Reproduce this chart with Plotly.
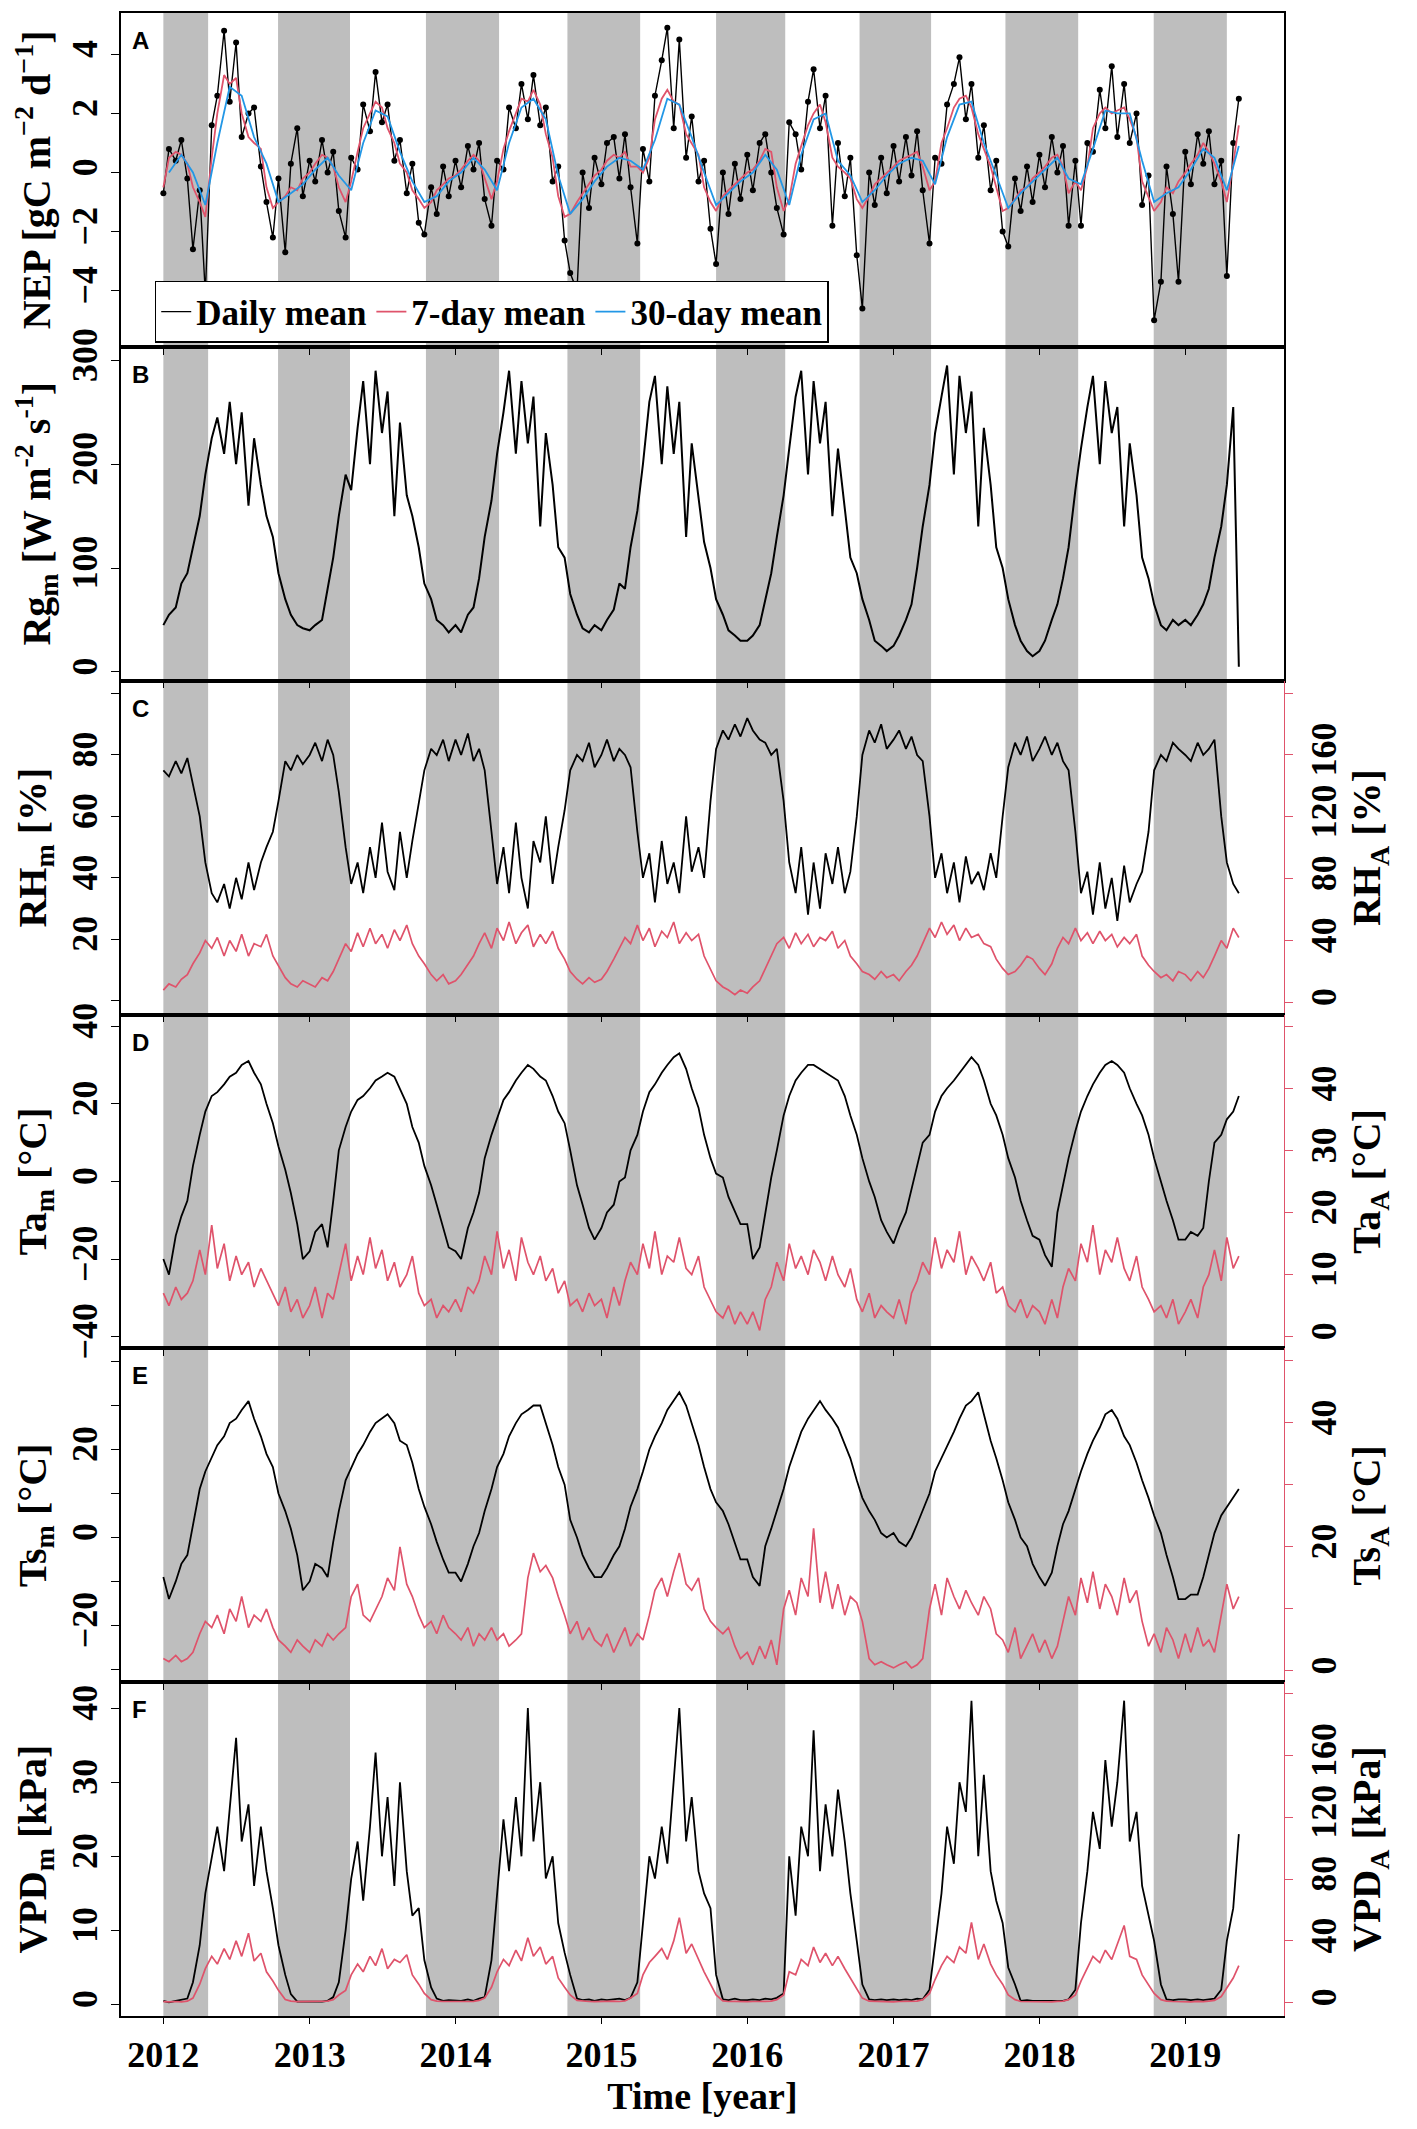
import pandas as pd
import plotly.graph_objects as go
from plotly.subplots import make_subplots

# fechas: muestreo semimensual (1 y 15 de cada mes) y mensual para la media de 30 dias
fechas = pd.date_range("2012-01-01", "2019-05-15", freq="SMS")
fechas_mes = pd.date_range("2012-01-01", "2019-05-01", freq="MS") + pd.Timedelta(days=14)

# periodos sombreados (invierno)
inicio_invierno = ["2012-01-01", "2012-10-14", "2013-10-19", "2014-10-08", "2015-10-15",
                   "2016-10-08", "2017-10-08", "2018-10-14"]
fin_invierno = ["2012-04-22", "2013-04-12", "2014-04-20", "2015-04-08", "2016-04-05",
                "2017-04-05", "2018-04-08", "2019-04-15"]

anios = [2012, 2013, 2014, 2015, 2016, 2017, 2018, 2019]

# A: NEP
nep_diario = [
    -0.7, 0.8, 0.4, 1.1, -0.2, -2.6, -0.6, -4.1, 1.6, 2.6, 4.8, 2.4, 4.4, 1.2, 2.0, 2.2, 0.2, -1.0, -2.2, -0.2, -2.7, 0.3, 1.5, -0.8,
    0.4, -0.3, 1.1, 0.0, 0.7, -1.3, -2.2, 0.5, 0.1, 2.3, 1.4, 3.4, 1.7, 2.3, 0.4, 1.1, -0.7, 0.3, -1.7, -2.1, -0.5, -1.4, 0.2, -0.8,
    0.4, -0.5, 0.9, 0.1, 1.0, -0.9, -1.8, 0.4, 0.1, 2.2, 1.5, 3.0, 1.8, 3.3, 1.6, 2.2, -0.3, 0.2, -2.3, -3.4, -4.0, 0.0, -1.2, 0.5,
    -0.4, 1.0, 1.2, -0.2, 1.3, -0.5, -2.4, 0.8, -0.3, 2.6, 3.8, 4.9, 1.5, 4.5, 0.5, 1.9, -0.3, 0.4, -1.9, -3.1, 0.0, -1.4, 0.3, -0.9,
    0.6, -0.6, 1.0, 1.3, 0.0, -1.2, -2.1, 1.7, 1.3, 0.1, 2.4, 3.5, 1.5, 2.6, -1.8, 1.0, -0.8, 0.5, -2.8, -4.6, 0.0, -1.1, 0.5, -0.7,
    0.9, -0.3, 1.2, -0.1, 1.4, -0.6, -2.4, 0.5, 0.3, 2.3, 3.0, 3.9, 1.8, 3.0, 0.5, 1.6, -0.6, 0.4, -2.0, -2.5, -0.2, -1.3, 0.2, -1.0,
    0.6, -0.5, 1.2, 0.0, 0.9, -1.8, 0.4, -1.8, 1.0, 0.7, 2.8, 1.5, 3.6, 1.2, 3.0, 1.0, 2.0, -1.1, -0.1, -5.0, -3.7, 0.2, -1.4, -3.7,
    0.7, -0.4, 1.3, 0.3, 1.4, -0.4, 0.4, -3.5, 1.0, 2.5,
]
nep_7d = [
    -0.5, 0.5, 0.7, 0.6, 0.3, -0.5, -1.0, -1.5, 0.5, 2.0, 3.3, 3.0, 3.2, 2.0, 1.2, 1.0, 0.8, -0.5, -1.2, -1.0, -0.8, -0.5, -0.6, -0.2,
    0.0, 0.3, 0.6, 0.5, 0.2, -0.5, -1.0, -0.3, 0.7, 1.5, 2.0, 2.4, 2.2, 1.5, 1.0, 0.3, 0.0, -0.6, -0.9, -1.2, -1.0, -0.6, -0.4, -0.2,
    -0.1, 0.1, 0.4, 0.6, 0.4, -0.2, -0.9, -0.3, 0.8, 1.4, 2.0, 2.5, 2.4, 2.8, 2.3, 1.3, 0.5, -0.8, -1.5, -1.4, -1.0, -0.7, -0.4, -0.1,
    0.1, 0.4, 0.6, 0.5, 0.7, 0.2, 0.2, 0.0, 0.5, 1.8, 2.5, 2.8, 2.4, 2.3, 1.3, 1.0, 0.6, -0.5, -1.0, -1.3, -0.8, -0.6, -0.4, -0.2,
    0.0, 0.1, 0.4, 0.8, 0.7, -0.5, -1.3, -0.9, 0.3, 0.9, 1.6, 2.0, 2.3, 1.7, 0.5, 0.2, 0.0, -0.2, -0.9, -1.2, -0.8, -0.4, -0.2, 0.0,
    0.2, 0.4, 0.5, 0.6, 0.7, 0.2, -0.6, -0.3, 1.0, 1.5, 2.2, 2.5, 2.6, 2.2, 1.3, 0.8, 0.2, -0.5, -1.3, -1.2, -0.9, -0.6, -0.5, -0.2,
    0.0, 0.2, 0.5, 0.6, 0.2, -0.7, -0.3, -0.6, 0.2, 1.5, 2.0, 2.2, 2.0, 2.1, 2.2, 1.8, 1.2, -0.3, -0.8, -1.3, -1.0, -0.5, -0.7, -0.3,
    0.0, 0.3, 0.6, 1.0, 0.7, 0.3, -0.3, -1.0, 0.3, 1.6,
]
nep_30d = [
    0.0, 0.6, 0.0, -1.1, 1.0, 2.9, 2.6, 1.2, 0.3, -1.0, -0.7, -0.4,
    0.1, 0.5, -0.1, -0.6, 1.0, 2.1, 1.9, 0.7, -0.3, -1.0, -0.8, -0.3,
    0.0, 0.5, 0.1, -0.6, 1.0, 2.2, 2.5, 1.8, -0.1, -1.4, -0.9, -0.3,
    0.2, 0.5, 0.4, 0.1, 1.1, 2.5, 2.3, 1.2, 0.0, -1.1, -0.7, -0.3,
    0.0, 0.6, 0.1, -1.1, 0.6, 1.8, 2.0, 0.4, -0.1, -1.0, -0.6, -0.1,
    0.3, 0.5, 0.4, -0.4, 1.2, 2.3, 2.4, 1.0, -0.1, -1.2, -0.7, -0.3,
    0.1, 0.5, -0.2, -0.4, 0.8, 2.1, 2.0, 2.0, 0.4, -1.0, -0.7, -0.5,
    0.1, 0.8, 0.5, -0.6, 0.9,
]

# B: radiacion global
rg_m = [
    45, 55, 62, 85, 95, 120, 150, 190, 225, 245, 210, 260, 200, 250, 160, 225, 180, 150, 130, 95, 70, 55, 45, 42,
    40, 45, 50, 80, 110, 150, 190, 175, 235, 280, 200, 290, 230, 270, 150, 240, 170, 150, 120, 85, 70, 50, 45, 38,
    45, 38, 55, 62, 90, 130, 165, 210, 250, 290, 210, 280, 220, 265, 140, 230, 180, 120, 110, 75, 55, 42, 38, 45,
    40, 50, 60, 85, 80, 120, 155, 200, 260, 285, 200, 275, 210, 260, 130, 220, 170, 125, 100, 70, 55, 40, 35, 30,
    30, 35, 45, 70, 95, 130, 170, 215, 265, 290, 190, 280, 220, 260, 150, 215, 160, 110, 95, 70, 50, 30, 25, 20,
    25, 35, 50, 65, 100, 140, 180, 230, 265, 295, 190, 285, 230, 270, 140, 235, 180, 120, 100, 70, 45, 30, 20, 15,
    20, 30, 50, 65, 90, 120, 175, 215, 255, 285, 200, 280, 230, 255, 140, 220, 170, 110, 90, 65, 45, 40, 50, 45,
    50, 45, 55, 65, 80, 110, 140, 180, 255, 5,
]

# C: humedad relativa
rh_m = [
    75, 73, 78, 74, 79, 70, 60, 45, 35, 32, 38, 30, 40, 33, 45, 36, 45, 50, 55, 65, 78, 75, 80, 77,
    80, 84, 78, 85, 80, 68, 50, 38, 45, 35, 50, 40, 58, 42, 36, 55, 40, 52, 65, 75, 82, 80, 85, 78,
    85, 80, 87, 78, 82, 75, 55, 38, 50, 35, 58, 40, 30, 52, 45, 60, 38, 50, 62, 75, 80, 78, 84, 76,
    80, 85, 78, 82, 80, 76, 55, 40, 48, 32, 52, 38, 45, 35, 60, 42, 50, 40, 65, 82, 88, 85, 90, 86,
    92, 88, 85, 84, 80, 82, 65, 45, 35, 50, 28, 45, 30, 48, 38, 50, 35, 42, 60, 80, 88, 84, 90, 82,
    85, 88, 82, 86, 80, 78, 60, 40, 48, 35, 45, 32, 47, 38, 42, 36, 48, 40, 60, 76, 84, 80, 86, 78,
    82, 86, 80, 84, 78, 75, 55, 35, 42, 28, 45, 30, 40, 26, 44, 32, 38, 42, 55, 75, 80, 78, 84, 82,
    80, 78, 84, 80, 82, 85, 60, 45, 38, 35,
]
rh_a = [
    8, 12, 10, 15, 18, 25, 32, 40, 35, 42, 30, 40, 33, 44, 30, 38, 36, 44, 30, 24, 16, 12, 10, 14,
    12, 10, 16, 14, 20, 28, 38, 33, 45, 36, 48, 38, 44, 35, 47, 40, 50, 38, 30, 25, 18, 14, 18, 12,
    14, 18, 25, 30, 38, 45, 35, 48, 40, 52, 38, 45, 50, 36, 44, 38, 46, 35, 28, 20, 15, 12, 16, 13,
    15, 20, 28, 35, 42, 38, 50, 40, 48, 36, 46, 42, 52, 38, 45, 40, 44, 30, 22, 14, 10, 8, 5, 8,
    6, 10, 14, 22, 30, 38, 42, 35, 45, 38, 44, 36, 42, 40, 46, 35, 40, 30, 25, 20, 18, 15, 20, 16,
    18, 14, 20, 24, 30, 38, 48, 42, 52, 44, 50, 40, 48, 42, 44, 38, 36, 28, 22, 18, 20, 24, 30, 28,
    22, 18, 25, 35, 42, 38, 48, 40, 45, 38, 46, 40, 44, 36, 42, 38, 44, 30, 24, 20, 16, 18, 14, 20,
    18, 14, 20, 16, 22, 30, 40, 35, 48, 42,
]

# D: temperatura del aire
ta_m = [
    -20, -24, -14, -9, -5, 4, 12, 18, 22, 23, 25, 27, 28, 30, 31, 28, 25, 20, 15, 9, 3, -3, -11, -20,
    -18, -13, -11, -17, -5, 8, 14, 18, 21, 22, 24, 26, 27, 28, 27, 24, 20, 14, 10, 4, -1, -6, -12, -17,
    -18, -20, -12, -8, -3, 6, 12, 16, 21, 23, 26, 28, 30, 29, 27, 26, 22, 18, 15, 8, -1, -6, -12, -15,
    -12, -8, -6, 0, 1, 8, 12, 18, 23, 25, 28, 30, 32, 33, 29, 24, 19, 12, 6, 2, 1, -4, -8, -11,
    -11, -20, -17, -8, 1, 8, 17, 22, 26, 28, 30, 30, 29, 28, 27, 26, 22, 17, 12, 6, 0, -4, -10, -13,
    -16, -12, -8, -2, 4, 10, 12, 18, 22, 24, 26, 28, 30, 32, 30, 26, 20, 17, 12, 6, 1, -5, -10, -14,
    -15, -19, -22, -8, -1, 6, 13, 18, 22, 25, 28, 30, 31, 30, 28, 24, 20, 17, 12, 6, 0, -5, -10, -15,
    -15, -13, -14, -12, 0, 10, 12, 16, 18, 22,
]
ta_a = [
    7, 5, 8, 6, 7, 9, 14, 10, 18, 11, 15, 9, 13, 10, 12, 8, 11, 9, 7, 5, 8, 4, 6, 3,
    5, 8, 3, 7, 6, 10, 15, 9, 13, 10, 16, 11, 14, 9, 12, 8, 10, 13, 7, 5, 6, 3, 5, 4,
    6, 4, 8, 7, 9, 13, 10, 17, 11, 14, 9, 16, 12, 10, 13, 9, 11, 7, 9, 5, 6, 4, 7, 5,
    6, 3, 8, 5, 9, 12, 10, 15, 11, 17, 10, 13, 12, 16, 11, 10, 13, 8, 6, 4, 3, 5, 2, 4,
    2, 4, 1, 6, 8, 12, 9, 15, 11, 13, 10, 14, 12, 9, 13, 10, 8, 11, 6, 4, 7, 3, 5, 4,
    3, 6, 2, 7, 9, 12, 10, 16, 11, 14, 12, 17, 10, 13, 11, 9, 12, 7, 8, 5, 4, 6, 3, 5,
    4, 2, 6, 3, 8, 11, 9, 15, 12, 18, 10, 14, 12, 16, 11, 9, 13, 8, 6, 4, 5, 3, 6, 2,
    4, 6, 3, 8, 10, 14, 9, 16, 11, 13,
]

# E: temperatura del suelo
ts_m = [
    -9, -14, -10, -6, -4, 3, 11, 15, 18, 21, 23, 26, 27, 29, 31, 27, 23, 19, 16, 10, 6, 2, -4, -12,
    -10, -6, -7, -9, -1, 6, 13, 16, 19, 21, 24, 26, 27, 28, 26, 22, 21, 17, 11, 7, 3, -1, -5, -8,
    -8, -10, -6, -2, 1, 6, 11, 16, 19, 23, 26, 28, 29, 30, 30, 26, 21, 16, 12, 4, 0, -4, -7, -9,
    -9, -7, -4, -2, 2, 7, 11, 15, 20, 23, 26, 29, 31, 33, 30, 26, 21, 16, 11, 8, 6, 3, -1, -5,
    -5, -9, -11, -2, 2, 6, 11, 16, 20, 24, 27, 29, 31, 29, 27, 25, 21, 18, 13, 9, 6, 4, 1, 0,
    1, -1, -2, 0, 3, 6, 10, 15, 18, 21, 24, 27, 30, 31, 33, 28, 22, 18, 13, 8, 4, 0, -2, -6,
    -9, -11, -8, -2, 3, 6, 11, 15, 19, 22, 25, 28, 29, 27, 23, 21, 17, 13, 9, 5, 1, -4, -9, -14,
    -14, -13, -13, -9, -4, 1, 5, 7, 9, 11,
]
ts_a = [
    2, 1.5, 2.5, 1.5, 2, 3, 6, 8, 7, 9, 6, 10, 8, 12, 7, 9, 8, 10, 7, 5, 4, 3, 5, 4,
    3, 5, 4, 6, 5, 6, 7, 12, 14, 9, 8, 10, 12, 15, 13, 20, 14, 12, 9, 7, 8, 6, 9, 7,
    6, 5, 7, 4, 6, 5, 7, 5, 6, 4, 5, 6, 15, 19, 16, 17, 15, 12, 9, 6, 8, 5, 7, 5,
    4, 6, 3, 5, 7, 4, 6, 5, 9, 13, 15, 12, 16, 19, 14, 13, 15, 10, 8, 7, 6, 7, 4, 2,
    3, 1, 4, 2, 5, 1, 10, 13, 9, 15, 12, 23, 11, 16, 10, 14, 9, 12, 11, 8, 2, 1, 1.5, 1,
    0.5, 1, 1.5, 0.5, 1, 2, 10, 14, 9, 15, 12, 10, 13, 11, 9, 12, 10, 6, 5, 3, 7, 2, 4, 6,
    3, 5, 2, 4, 8, 12, 9, 15, 11, 16, 10, 14, 12, 9, 15, 11, 13, 8, 4, 6, 3, 7, 5, 2,
    6, 3, 7, 4, 5, 3, 9, 14, 10, 12,
]

# F: deficit de presion de vapor
vpd_m = [
    0.5, 0.3, 0.5, 0.6, 0.8, 3, 8, 15, 20, 24, 18, 26, 36, 22, 27, 16, 24, 18, 13, 8, 4, 1.4, 0.4, 0.4,
    0.4, 0.3, 0.4, 0.5, 1, 3, 10, 17, 22, 14, 24, 34, 20, 28, 16, 30, 18, 12, 13, 6, 2.3, 0.8, 0.5, 0.6,
    0.6, 0.5, 0.7, 0.5, 0.8, 1, 6, 15, 25, 18, 28, 20, 40, 22, 30, 17, 20, 11, 7, 4, 0.8, 0.6, 0.7, 0.5,
    0.7, 0.6, 0.7, 0.8, 0.6, 0.9, 3, 11, 20, 17, 24, 19, 30, 40, 22, 28, 18, 15, 13, 4, 0.7, 0.6, 0.8, 0.6,
    0.6, 0.7, 0.6, 0.8, 0.7, 0.9, 1.5, 20, 12, 24, 20, 37, 18, 27, 20, 29, 22, 15, 8.6, 2.7, 0.7, 0.6, 0.7, 0.6,
    0.7, 0.6, 0.7, 0.6, 0.8, 0.7, 2, 8, 15, 24, 19, 30, 26, 41, 20, 31, 18, 14, 11, 5, 2.7, 0.5, 0.6, 0.5,
    0.5, 0.6, 0.5, 0.6, 0.5, 0.7, 2, 11, 18, 26, 21, 33, 24, 30, 41, 22, 26, 16, 12, 8.6, 2.7, 0.7, 0.6, 0.7,
    0.7, 0.6, 0.7, 0.6, 0.7, 0.8, 2, 8.6, 13, 23,
]
vpd_a = [
    0.7, 0.5, 0.8, 0.6, 1, 3, 12, 22, 30, 25, 35, 28, 40, 30, 45, 27, 32, 20, 14, 8, 2, 1, 0.7, 0.8,
    0.7, 0.6, 0.8, 1, 2, 5, 8, 18, 25, 20, 30, 24, 35, 22, 28, 26, 31, 18, 12, 6, 2, 1, 0.8, 0.9,
    0.8, 0.7, 1, 0.9, 1.5, 3, 10, 20, 28, 24, 34, 27, 42, 30, 36, 25, 30, 16, 10, 5, 1.5, 1, 0.8, 0.7,
    0.9, 0.7, 1, 0.8, 1.2, 3, 6, 18, 26, 30, 35, 28, 40, 55, 32, 38, 28, 20, 12, 5, 1.2, 0.8, 0.9, 0.7,
    0.7, 0.8, 0.6, 0.9, 1, 2, 5, 20, 18, 28, 24, 36, 26, 32, 24, 30, 22, 16, 9, 3, 1, 0.8, 0.7, 0.8,
    0.6, 0.8, 0.7, 0.9, 1, 2, 6, 15, 24, 30, 26, 36, 32, 52, 28, 38, 25, 18, 12, 5, 2, 0.8, 0.7, 0.6,
    0.7, 0.8, 0.6, 0.9, 1, 2, 5, 14, 22, 30, 26, 34, 28, 38, 50, 30, 28, 18, 12, 6, 2, 1, 0.8, 0.7,
    0.8, 0.6, 0.9, 0.7, 1, 1.5, 4, 10, 16, 24,
]

for serie in [nep_diario, nep_7d, rg_m, rh_m, rh_a, ta_m, ta_a, ts_m, ts_a, vpd_m, vpd_a]:
    assert len(serie) == len(fechas), len(serie)
assert len(nep_30d) == len(fechas_mes)

rojo = "#DF536B"
azul = "#2297E6"
fuente = "Liberation Serif"

fig = make_subplots(rows=6, cols=1, shared_xaxes=True, vertical_spacing=0,
                    specs=[[{"secondary_y": False}], [{"secondary_y": False}],
                           [{"secondary_y": True}], [{"secondary_y": True}],
                           [{"secondary_y": True}], [{"secondary_y": True}]])

# A
fig.add_trace(go.Scatter(x=fechas, y=nep_diario, mode="lines", name="Daily mean",
                         line=dict(color="black", width=1.4)), row=1, col=1)
fig.add_trace(go.Scatter(x=fechas, y=nep_diario, mode="markers", showlegend=False,
                         marker=dict(color="black", size=6)), row=1, col=1)
fig.add_trace(go.Scatter(x=fechas, y=nep_7d, mode="lines", name="7-day mean",
                         line=dict(color=rojo, width=1.8)), row=1, col=1)
fig.add_trace(go.Scatter(x=fechas_mes, y=nep_30d, mode="lines", name="30-day mean",
                         line=dict(color=azul, width=1.8)), row=1, col=1)

# B
fig.add_trace(go.Scatter(x=fechas, y=rg_m, mode="lines", showlegend=False,
                         line=dict(color="black", width=2)), row=2, col=1)

# C-F: serie media (negra, eje izq.) y amplitud (roja, eje der.)
pares = [(rh_m, rh_a, 3), (ta_m, ta_a, 4), (ts_m, ts_a, 5), (vpd_m, vpd_a, 6)]
for media, ampl, fila in pares:
    fig.add_trace(go.Scatter(x=fechas, y=media, mode="lines", showlegend=False,
                             line=dict(color="black", width=1.8)), row=fila, col=1, secondary_y=False)
    fig.add_trace(go.Scatter(x=fechas, y=ampl, mode="lines", showlegend=False,
                             line=dict(color=rojo, width=1.7)), row=fila, col=1, secondary_y=True)

# bandas grises (se agregan despues de las trazas para que existan los subplots)
for x0, x1 in zip(inicio_invierno, fin_invierno):
    fig.add_vrect(x0=x0, x1=x1, fillcolor="#BEBEBE", opacity=1, line_width=0,
                  layer="below", row="all", col=1)

eje_fuente = dict(family=fuente, size=36, color="black", weight="bold")
titulo_fuente = dict(family=fuente, size=40, color="black", weight="bold")

# (titulo, rango, ticks con etiqueta, ticks sin etiqueta)
ejes_izq = [
    ("NEP [gC m<sup>\u22122</sup> d<sup>\u22121</sup>]", [-5.9, 5.4], [-4, -2, 0, 2, 4], []),
    ("Rg<sub>m</sub> [W m<sup>-2</sup> s<sup>-1</sup>]", [-8.5, 313], [0, 100, 200, 300], []),
    ("RH<sub>m</sub> [%]", [-4.5, 104.2], [20, 40, 60, 80], [0, 100]),
    ("Ta<sub>m</sub> [\u00b0C]", [-43, 43], [-40, -20, 0, 20, 40], []),
    ("Ts<sub>m</sub> [\u00b0C]", [-32.9, 43], [-20, 0, 20], [-30, -10, 10, 30, 40]),
    ("VPD<sub>m</sub> [kPa]", [-1.55, 43.5], [0, 10, 20, 30, 40], []),
]
ejes_der = [
    ("RH<sub>A</sub> [%]", [-7.8, 208], [0, 40, 80, 120, 160], [200]),
    ("Ta<sub>A</sub> [\u00b0C]", [-1.9, 52], [0, 10, 20, 30, 40], [50]),
    ("Ts<sub>A</sub> [\u00b0C]", [-1.8, 52], [0, 20, 40], [10, 30, 50]),
    ("VPD<sub>A</sub> [kPa]", [-8.6, 207.4], [0, 40, 80, 120, 160], [200]),
]


def etiqueta(v):
    return str(v).replace("-", "\u2212")


for i, (titulo, rango, vals, menores) in enumerate(ejes_izq):
    fila = i + 1
    fig.update_yaxes(title=dict(text=titulo, font=titulo_fuente, standoff=6), range=rango,
                     tickvals=vals, ticktext=[etiqueta(v) for v in vals], tickangle=-90, tickfont=eje_fuente,
                     ticks="outside", ticklen=8, tickcolor="black", showgrid=False, zeroline=False,
                     minor=dict(tickvals=menores, ticks="outside", ticklen=8, tickcolor="black", showgrid=False),
                     showline=True, linecolor="black", linewidth=1.5, mirror=(fila <= 2),
                     automargin=False,
                     row=fila, col=1, **({"secondary_y": False} if fila > 2 else {}))

for i, (titulo, rango, vals, menores) in enumerate(ejes_der):
    fila = i + 3
    fig.update_yaxes(title=dict(text=titulo, font=titulo_fuente, standoff=6), range=rango,
                     tickvals=vals, ticktext=[etiqueta(v) for v in vals], tickangle=-90, tickfont=eje_fuente,
                     ticks="outside", ticklen=8, tickcolor=rojo, showgrid=False, zeroline=False,
                     minor=dict(tickvals=menores, ticks="outside", ticklen=8, tickcolor=rojo, showgrid=False),
                     showline=True, linecolor=rojo, linewidth=1.2, automargin=False,
                     row=fila, col=1, secondary_y=True)

ticks_x = [f"{a}-01-01" for a in anios]
fig.update_xaxes(domain=[0, 1], range=["2011-09-17", "2019-09-05"], tickvals=ticks_x,
                 ticktext=[str(a) for a in anios], showgrid=False, zeroline=False,
                 showline=True, linecolor="black", linewidth=1.5, mirror=True,
                 ticks="outside", ticklen=6, tickcolor="black", automargin=False,
                 tickfont=dict(family=fuente, size=36, color="black", weight="bold"))
fig.update_xaxes(title=dict(text="Time [year]", font=dict(family=fuente, size=38, color="black", weight="bold"),
                            standoff=4), row=6, col=1)

letras = ["A", "B", "C", "D", "E", "F"]
for i, letra in enumerate(letras):
    fig.add_annotation(text=letra, xref="paper", yref="paper", x=0.008, y=1 - i / 6 - 0.006,
                       xanchor="left", yanchor="top", showarrow=False,
                       font=dict(family="Liberation Sans", size=24, color="black", weight="bold"))

fig.update_layout(
    width=1417, height=2129,
    margin=dict(l=113, r=141, t=5, b=121),
    paper_bgcolor="white", plot_bgcolor="white",
    showlegend=True,
    legend=dict(orientation="h", x=0.029, xanchor="left", y=5 / 6 + 0.002, yanchor="bottom",
                bgcolor="white", bordercolor="black", borderwidth=1.5,
                font=dict(family=fuente, size=35, color="black", weight="bold")),
)

fig.write_html("out.html")
